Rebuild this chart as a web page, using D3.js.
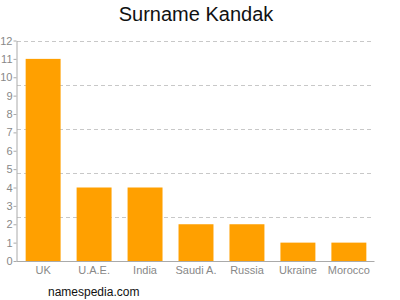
<!DOCTYPE html>
<html><head><meta charset="utf-8">
<script src="https://cdn.jsdelivr.net/npm/d3@7"></script>
<style>body{margin:0;background:#fff}svg{display:block;font-family:"Liberation Sans",Arial,sans-serif}</style>
</head><body>
<script>
const categories = ["UK","U.A.E.","India","Saudi A.","Russia","Ukraine","Morocco"];
const values = [11,4,4,2,2,1,1];
const yTicks = [0,1,2,3,4,5,6,7,8,9,10,11,12];
const gridValues = [2.4,4.8,7.2,9.6,12];
const title = "Surname Kandak";
const watermark = "namespedia.com";

const W=400,H=300;
const svg=d3.select("body").append("svg").attr("width",W).attr("height",H);
const x=d3.scaleBand().domain(categories).range([17.5,374.5]).paddingInner(0.314).paddingOuter(0.16);
const y=d3.scaleLinear().domain([0,12]).range([261,40.5]);

svg.append("g").selectAll("line").data(gridValues).join("line")
  .attr("x1",17).attr("x2",374).attr("y1",d=>Math.round(y(d))+0.5).attr("y2",d=>Math.round(y(d))+0.5)
  .attr("stroke","#c8c8c8").attr("stroke-dasharray","4,3");

svg.append("g").selectAll("rect").data(values).join("rect")
  .attr("x",(d,i)=>x(categories[i])).attr("width",x.bandwidth())
  .attr("y",d=>y(d)).attr("height",d=>y(0)-y(d)).attr("fill","#ffa000");

const ya=svg.append("g").attr("transform","translate(16.5,0)")
  .call(d3.axisLeft(y).tickValues(yTicks).tickSize(3).tickPadding(1).tickSizeOuter(0));
ya.select(".domain").attr("stroke","#aaa");
ya.selectAll(".tick line").attr("stroke","#aaa");
ya.selectAll("text").attr("fill","#888").style("font-size","11px").style("font-family","'Liberation Sans',Arial,sans-serif");

const xa=svg.append("g").attr("transform","translate(0,261.5)")
  .call(d3.axisBottom(x).tickSize(0).tickPadding(5).tickSizeOuter(0));
xa.select(".domain").attr("stroke","#aaa").attr("d","M16.5,0H374.5");
xa.selectAll("text").attr("fill","#888").style("font-size","11px").style("font-family","'Liberation Sans',Arial,sans-serif");

svg.append("text").attr("x",196).attr("y",21).attr("text-anchor","middle")
  .style("font-size","20px").attr("fill","#111").text(title);
svg.append("text").attr("x",48).attr("y",296)
  .style("font-size","12px").attr("fill","#111").text(watermark);
</script>
</body></html>
